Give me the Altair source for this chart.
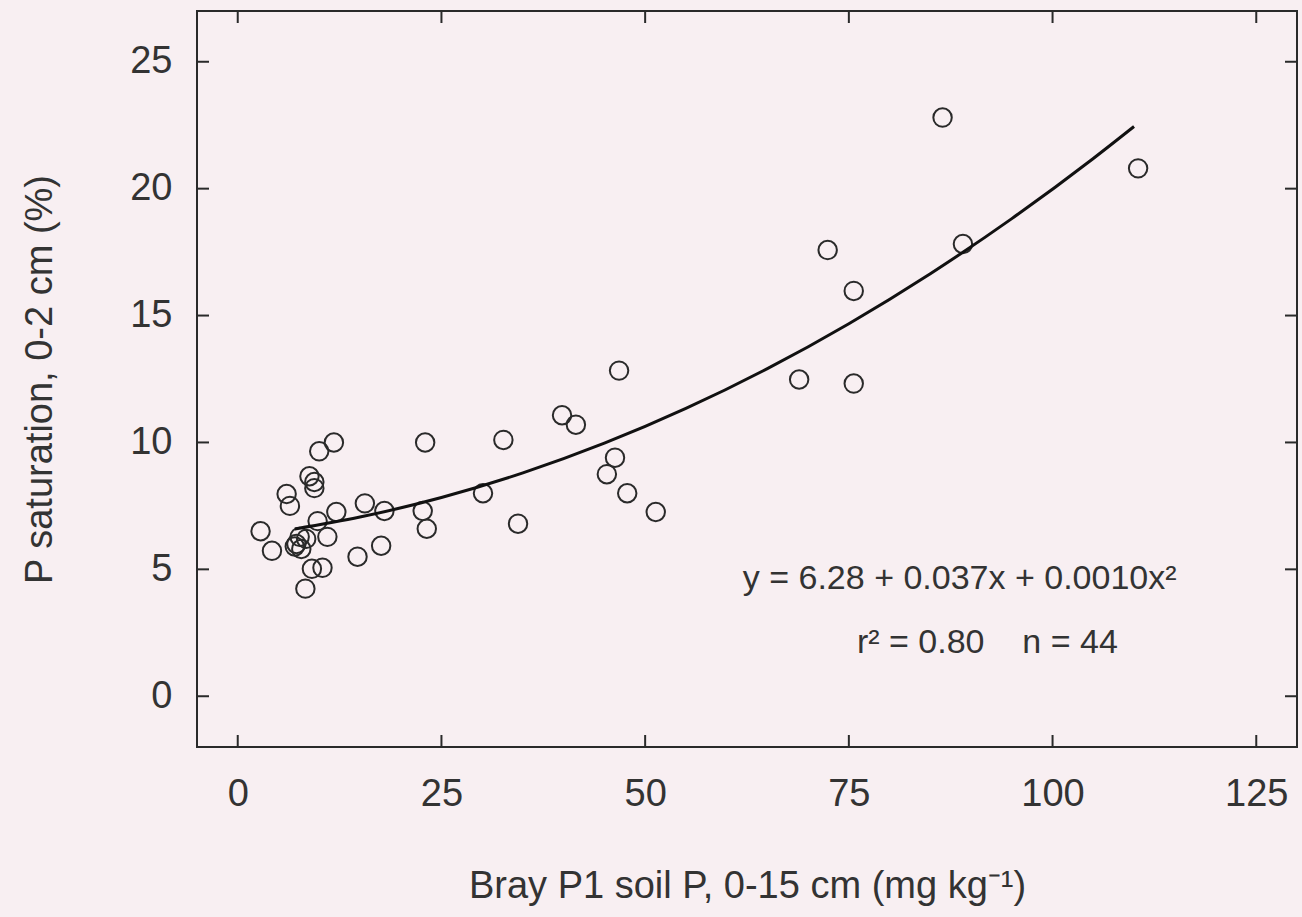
import altair as alt
import pandas as pd

# Observed points (Bray P1 soil P, P saturation)
bray_p = [11.8, 10.0, 23.0, 8.8, 9.4, 9.4, 6.0, 6.4, 15.6, 18.0, 12.1, 9.8, 22.7, 23.2,
          2.8, 11.0, 7.6, 8.4, 7.2, 7.0, 4.2, 17.6, 14.7, 9.1, 10.4, 8.3, 7.8,
          46.8, 32.6, 39.8, 41.5, 46.3, 45.3, 47.8, 51.3, 30.1, 34.4,
          86.5, 110.5, 89.0, 72.4, 75.6, 68.9, 75.6]
p_sat = [10.0, 9.65, 10.0, 8.67, 8.44, 8.2, 7.97, 7.5, 7.6, 7.3, 7.26, 6.9, 7.3, 6.6,
         6.5, 6.28, 6.28, 6.2, 6.0, 5.9, 5.73, 5.93, 5.5, 5.02, 5.06, 4.24, 5.8,
         12.83, 10.1, 11.07, 10.7, 9.4, 8.75, 8.0, 7.26, 8.0, 6.8,
         22.8, 20.8, 17.82, 17.58, 15.97, 12.48, 12.32]

# Fitted curve
curve_x = [7, 15, 25, 35, 45, 55, 65, 75, 85, 95, 105, 110]
curve_y = [6.59, 7.06, 7.83, 8.80, 9.97, 11.34, 12.91, 14.68, 16.65, 18.82, 21.19, 22.45]

x_ticks = [0, 25, 50, 75, 100, 125]
y_ticks = [0, 5, 10, 15, 20, 25]

ann_text = ["y = 6.28 + 0.037x + 0.0010x²", "r² = 0.80\u00a0\u00a0\u00a0\u00a0n = 44"]
ann_x = [88.6, 92.0]
ann_y = [4.63, 2.08]

W, H = 1100, 736
FONT = "Liberation Sans"
INK = "#2a2a2a"
TXT = "#333333"

pts = pd.DataFrame({"x": bray_p, "y": p_sat})
crv = pd.DataFrame({"x": curve_x, "y": curve_y})
xt = pd.DataFrame({"v": x_ticks})
yt = pd.DataFrame({"v": y_ticks})
ann = pd.DataFrame({"x": ann_x, "y": ann_y, "t": ann_text})

xscale = alt.Scale(domain=[-5, 130], nice=False, zero=False)
yscale = alt.Scale(domain=[-2, 27], nice=False, zero=False)

xaxis = alt.Axis(values=x_ticks, title="Bray P1 soil P, 0-15 cm (mg kg⁻¹)", ticks=False, tickSize=0,
                 domain=False, grid=False, labelFontSize=38, labelPadding=28, titleFontSize=38,
                 titlePadding=54, labelFont=FONT, titleFont=FONT, labelColor=TXT, titleColor=TXT,
                 titleFontWeight="normal")
yaxis = alt.Axis(values=y_ticks, title="P saturation, 0-2 cm (%)", ticks=False, tickSize=0,
                 domain=False, grid=False, labelFontSize=38, labelPadding=25, titleFontSize=38,
                 titlePadding=70, labelFont=FONT, titleFont=FONT, labelColor=TXT, titleColor=TXT,
                 titleFontWeight="normal")

points = alt.Chart(pts).mark_point(shape="circle", filled=False, size=340, stroke=INK,
                                   strokeWidth=2, opacity=1).encode(
    x=alt.X("x:Q", scale=xscale, axis=xaxis),
    y=alt.Y("y:Q", scale=yscale, axis=yaxis),
)

line = alt.Chart(crv).mark_line(color="#111", strokeWidth=3, interpolate="monotone").encode(
    x=alt.X("x:Q", scale=xscale),
    y=alt.Y("y:Q", scale=yscale),
)

tick_bottom = alt.Chart(xt).mark_rule(color=INK, strokeWidth=2).encode(
    x=alt.X("v:Q", scale=xscale), y=alt.value(H), y2=alt.value(H - 12))
tick_top = alt.Chart(xt).mark_rule(color=INK, strokeWidth=2).encode(
    x=alt.X("v:Q", scale=xscale), y=alt.value(0), y2=alt.value(12))
tick_left = alt.Chart(yt).mark_rule(color=INK, strokeWidth=2).encode(
    y=alt.Y("v:Q", scale=yscale), x=alt.value(0), x2=alt.value(12))
tick_right = alt.Chart(yt).mark_rule(color=INK, strokeWidth=2).encode(
    y=alt.Y("v:Q", scale=yscale), x=alt.value(W), x2=alt.value(W - 12))

text = alt.Chart(ann).mark_text(font=FONT, fontSize=34, color=TXT, align="center",
                                baseline="middle").encode(
    x=alt.X("x:Q", scale=xscale), y=alt.Y("y:Q", scale=yscale), text="t:N")

chart = alt.layer(points, line, tick_bottom, tick_top, tick_left, tick_right, text).properties(
    width=W, height=H,
    autosize=alt.AutoSizeParams(type="none"),
    padding={"left": 197, "top": 11, "right": 5, "bottom": 170},
    background="#f8eff2",
).configure_view(stroke=INK, strokeWidth=2)

chart.save("out.html", embed_options={"renderer": "svg", "actions": False})
